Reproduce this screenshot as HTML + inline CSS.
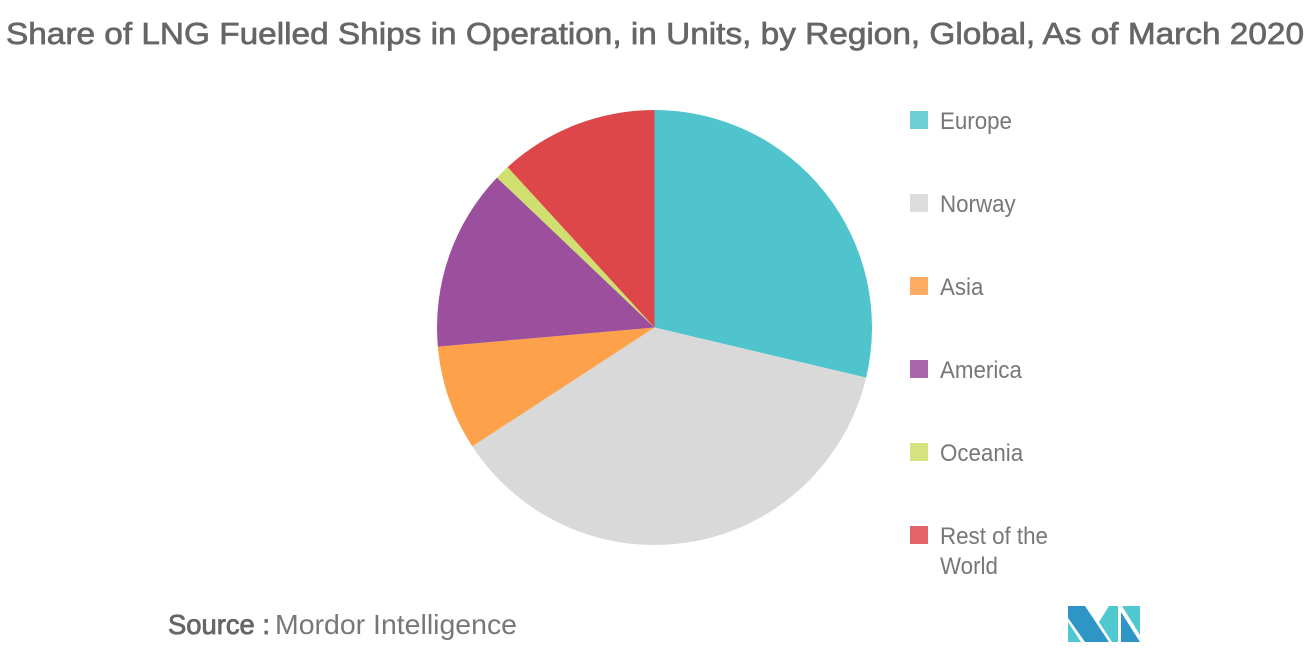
<!DOCTYPE html>
<html>
<head>
<meta charset="utf-8">
<style>
html,body{margin:0;padding:0;background:#fff;width:1310px;height:655px;overflow:hidden}
svg{display:block}
text{font-family:"Liberation Sans",sans-serif}
</style>
</head>
<body>
<svg id="chart" width="1310" height="655" viewBox="0 0 1310 655">
<text x="6" y="44" font-size="31" fill="#666" stroke="#666" stroke-width="0.7" textLength="1298" lengthAdjust="spacingAndGlyphs">Share of LNG Fuelled Ships in Operation, in Units, by Region, Global, As of March 2020</text>
<g id="slices"></g>
<g id="legend"></g>
<text x="168" y="634" font-size="28" fill="#666" stroke="#666" stroke-width="0.8" textLength="102" lengthAdjust="spacingAndGlyphs">Source :</text>
<text x="275" y="634" font-size="28" fill="#777" textLength="242" lengthAdjust="spacingAndGlyphs">Mordor Intelligence</text>
<g>
<polygon points="1068,606 1085,606 1109,642 1085,642 1068,618" fill="#2e96c6"/>
<polygon points="1068,622 1081,642 1068,642" fill="#4fc8d0"/>
<polygon points="1109,606 1118,606 1118,642 1112,642 1099,622" fill="#4fc8d0"/>
<polygon points="1122,606 1140,606 1140,635" fill="#4fc8d0"/>
<polygon points="1121,612 1140,642 1121,642" fill="#2e96c6"/>
</g>
</svg>
<script>
const categories = ["Europe", "Norway", "Asia", "America", "Oceania", "Rest of the World"];
const shares = [28.7, 37.1, 7.8, 13.5, 1.1, 11.8];
const sliceColors = ["#50c4cc", "#d9d9d9", "#fda14b", "#9b4f9d", "#cfe070", "#dd4749"];
const legendColors = ["#6dced4", "#dcdcdc", "#fdab63", "#a966ab", "#d5e481", "#e3636a"];

const NS = "http://www.w3.org/2000/svg";
const cx = 654.5, cy = 327.5, radius = 217.5;
const legendTop = 121, legendStep = 83, labelSqueeze = 0.93;
const total = shares.reduce((a, b) => a + b, 0);
const angleOf = v => v / total * 2 * Math.PI;
const pointAt = a => [cx + radius * Math.sin(a), cy - radius * Math.cos(a)];

const slicesG = document.getElementById("slices");
let start = 0;
shares.forEach((v, i) => {
  const end = start + angleOf(v);
  const p0 = pointAt(start), p1 = pointAt(end);
  const large = end - start > Math.PI ? 1 : 0;
  const path = document.createElementNS(NS, "path");
  path.setAttribute("d", `M${cx},${cy}L${p0[0]},${p0[1]}A${radius},${radius} 0 ${large} 1 ${p1[0]},${p1[1]}Z`);
  path.setAttribute("fill", sliceColors[i]);
  
  
  slicesG.appendChild(path);
  start = end;
});

const legendG = document.getElementById("legend");
categories.forEach((name, i) => {
  const y = legendTop + i * legendStep;
  const entry = document.createElementNS(NS, "g");
  
  
  legendG.appendChild(entry);
  const sw = document.createElementNS(NS, "rect");
  sw.setAttribute("x", 910);
  sw.setAttribute("y", y - 10);
  sw.setAttribute("width", 18);
  sw.setAttribute("height", 18);
  sw.setAttribute("fill", legendColors[i]);
  
  
  entry.appendChild(sw);
  const lines = name === "Rest of the World" ? ["Rest of the", "World"] : [name];
  lines.forEach((line, j) => {
    const t = document.createElementNS(NS, "text");
    t.setAttribute("x", 940);
    t.setAttribute("y", y + 8 + j * 30);
    t.setAttribute("font-size", 24);
    t.setAttribute("fill", "#777");
    
    
    t.textContent = line;
    entry.appendChild(t);
    t.setAttribute("textLength", t.getComputedTextLength() * labelSqueeze);
    t.setAttribute("lengthAdjust", "spacingAndGlyphs");
  });
});
</script>
</body>
</html>
